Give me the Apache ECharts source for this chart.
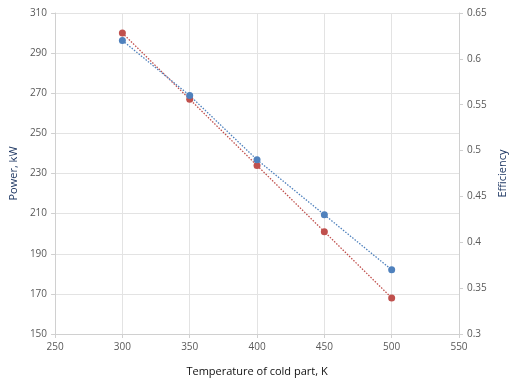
<!DOCTYPE html>
<html><head><meta charset="utf-8">
<script src="https://cdn.jsdelivr.net/npm/echarts@6/dist/echarts.min.js"></script>
<style>html,body{margin:0;padding:0;background:#fff}#c{width:527px;height:388px}</style>
</head><body><div id="c"></div>
<script>
const temps = [300, 350, 400, 450, 500];
const power = [300, 267, 234, 201, 168];
const efficiency = [0.62, 0.56, 0.49, 0.43, 0.37];
const xName = 'Temperature of cold part, K';
const yLeftName = 'Power, kW';
const yRightName = 'Efficiency';

const chart = echarts.init(document.getElementById('c'));
const lbl = {color:'#595959', fontSize:10, fontFamily:'Open Sans'};
const grid = {lineStyle:{color:'#e3e3e3', width:1}};
const axLine = {show:true, lineStyle:{color:'#d0d0d0', width:1}};
const tick = {show:true, length:4, lineStyle:{color:'#d0d0d0'}};
chart.setOption({
  animation:false,
  grid:{left:53, right:68, top:13, bottom:54},
  xAxis:{type:'value', min:250, max:550, interval:50,
    name:xName, nameLocation:'middle', nameGap:32,
    nameTextStyle:{color:'#111', fontSize:11, fontFamily:'Open Sans'},
    axisLabel:lbl, splitLine:Object.assign({show:true},grid), axisLine:axLine, axisTick:tick},
  yAxis:[
    {type:'value', min:150, max:310, interval:20, position:'left',
     name:yLeftName, nameLocation:'middle', nameGap:29, nameRotate:90,
     nameTextStyle:{color:'#1f3864', fontSize:11, fontFamily:'Open Sans'},
     axisLabel:lbl, splitLine:Object.assign({show:true},grid), axisLine:axLine, axisTick:tick},
    {type:'value', min:0.3, max:0.65, interval:0.05, position:'right',
     name:yRightName, nameLocation:'middle', nameGap:34, nameRotate:90,
     nameTextStyle:{color:'#1f3864', fontSize:11, fontFamily:'Open Sans'},
     axisLabel:Object.assign({},lbl,{formatter:v=>String(+v.toFixed(2))}),
     splitLine:{show:false}, axisLine:axLine, axisTick:tick}
  ],
  series:[
    {type:'line', yAxisIndex:0, data:temps.map((t,i)=>[t,power[i]]),
     symbol:'circle', symbolSize:7, itemStyle:{color:'#c0504d'},
     lineStyle:{color:'#c0504d', width:1.3, type:[1.5,1.5]}},
    {type:'line', yAxisIndex:1, data:temps.map((t,i)=>[t,efficiency[i]]),
     symbol:'circle', symbolSize:7, itemStyle:{color:'#4f81bd'},
     lineStyle:{color:'#4f81bd', width:1.3, type:[1.5,1.5]}}
  ]
});
</script></body></html>
